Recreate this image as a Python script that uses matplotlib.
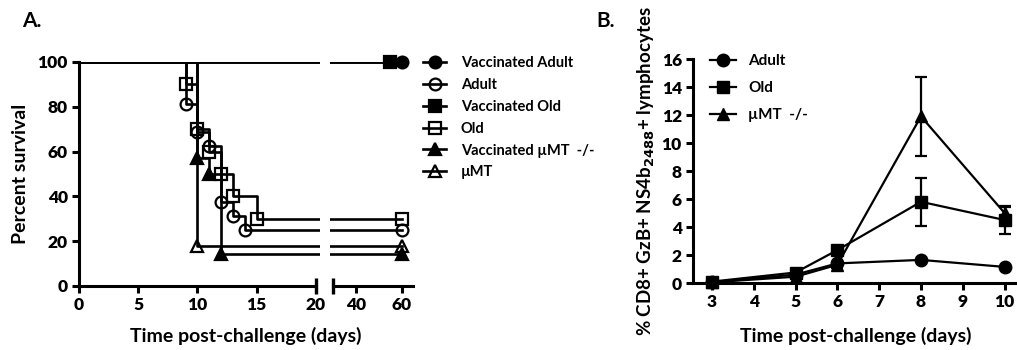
import matplotlib
matplotlib.use('Agg')
import matplotlib.pyplot as plt
from matplotlib.lines import Line2D

plt.rcParams['font.family'] = ['Lato', 'DejaVu Sans']
plt.rcParams['font.weight'] = 'bold'
plt.rcParams['axes.labelweight'] = 'bold'
plt.rcParams['axes.linewidth'] = 2.2

# ---- panel A: survival (Kaplan-Meier steps) ----
va_t = [0, 60]
va_s = [100, 100]
ad_t = [0, 9, 10, 11, 12, 13, 14, 60]
ad_s = [100, 81.25, 68.75, 62.5, 37.5, 31.25, 25, 25]
vo_t = [0, 55]
vo_s = [100, 100]
old_t = [0, 9, 10, 11, 12, 13, 15, 60]
old_s = [100, 90, 70, 60, 50, 40, 30, 30]
vmt_t = [0, 10, 11, 12, 60]
vmt_s = [100, 57.1, 50, 14.3, 14.3]
mt_t = [0, 10, 60]
mt_s = [100, 18, 18]

labelsA = ['Vaccinated Adult', 'Adult', 'Vaccinated Old', 'Old',
           'Vaccinated \u00b5MT  -/-', '\u00b5MT']
xticksL = [0, 5, 10, 15, 20]
xticksR = [40, 60]
yticksA = [0, 20, 40, 60, 80, 100]

# ---- panel B: CD8+ GzB+ NS4b2488+ ----
days = [3, 5, 6, 8, 10]
adult_b = [0.05, 0.6, 1.4, 1.65, 1.15]
adult_e = [0.05, 0.1, 0.1, 0.1, 0.1]
old_b = [0.1, 0.75, 2.35, 5.8, 4.5]
old_e = [0.05, 0.1, 0.2, 1.7, 1.0]
mt_b = [0.05, 0.45, 1.3, 11.9, 5.0]
mt_e = [0.05, 0.1, 0.2, 2.85, 0.45]
labelsB = ['Adult', 'Old', '\u00b5MT  -/-']
xticksB = [3, 4, 5, 6, 7, 8, 9, 10]
yticksB = [0, 2, 4, 6, 8, 10, 12, 14, 16]

W, H = 1017, 350
def px(l, t, r, b):
    return [l / W, 1 - b / H, (r - l) / W, (b - t) / H]

def set_ticks(ax, xt, yt):
    ax.set_xticks(xt, [str(v) for v in xt], fontweight='heavy')
    if yt:
        ax.set_yticks(yt, [str(v) for v in yt], fontweight='heavy')
    else:
        ax.set_yticks([])

fig = plt.figure(figsize=(W / 100, H / 100), dpi=100)
axL = fig.add_axes(px(79, 62, 320, 286))
axR = fig.add_axes(px(330, 62, 413, 286))
axB = fig.add_axes(px(693, 59, 1015, 283))

styles = [
    dict(marker='o', mfc='k'),
    dict(marker='o', mfc='none'),
    dict(marker='s', mfc='k'),
    dict(marker='s', mfc='none'),
    dict(marker='^', mfc='k'),
    dict(marker='^', mfc='none'),
]
curves = [(va_t, va_s), (ad_t, ad_s), (vo_t, vo_s), (old_t, old_s),
          (vmt_t, vmt_s), (mt_t, mt_s)]

axL.set_xlim(0, 20.35)
axR.set_xlim(28.6, 65)
for ax in (axL, axR):
    lo, hi = ax.get_xlim()
    for (t, s), st in zip(curves, styles):
        ax.step(t, s, where='post', color='k', lw=1.9)
        pts = [(a, b) for a, b in zip(t[1:], s[1:]) if lo <= a <= hi]
        if pts:
            ax.plot([p[0] for p in pts], [p[1] for p in pts], ls='none',
                    marker=st['marker'], ms=8.5, mfc=st['mfc'], mec='k',
                    mew=1.6, clip_on=False)
    ax.set_ylim(0, 100)
    ax.spines['top'].set_visible(False)
    ax.spines['right'].set_visible(False)
    ax.tick_params(direction='out', length=5, width=2.2, labelsize=12.5, pad=3)

axL.spines['bottom'].set_bounds(0, 20)
set_ticks(axL, xticksL, yticksA)
axL.plot([20], [0], marker='|', ms=11, mew=2.4, color='k', clip_on=False)
axL.set_ylabel('Percent survival', fontsize=14, labelpad=6)

axR.spines['bottom'].set_bounds(30, 65)
axR.spines['left'].set_visible(False)
set_ticks(axR, xticksR, None)
axR.plot([30], [0], marker='|', ms=11, mew=2.4, color='k', clip_on=False)

fig.text(246 / W, 1 - 336 / H, 'Time post-challenge (days)', fontsize=14,
         fontweight='bold', ha='center', va='center')
fig.text(22 / W, 1 - 21 / H, 'A.', fontsize=15, fontweight='bold',
         ha='left', va='center')

handlesA = [Line2D([], [], color='k', lw=1.9, marker=st['marker'], ms=8.5,
                   mfc=st['mfc'], mec='k', mew=1.6) for st in styles]
fig.legend(handlesA, labelsA, loc='upper left',
           bbox_to_anchor=(423 / W, 1 - 56 / H), frameon=False,
           prop=dict(size=10.5, weight='bold'),
           handlelength=1.6, handletextpad=1.0, labelspacing=0.54,
           borderpad=0, borderaxespad=0)

# ---- panel B ----
stB = [('o', adult_b, adult_e), ('s', old_b, old_e), ('^', mt_b, mt_e)]
handlesB = []
for m, v, e in stB:
    axB.errorbar(days, v, yerr=e, color='k', lw=1.6, marker=m, ms=9,
                 mfc='k', mec='k', capsize=4.3, capthick=1.6, elinewidth=1.6,
                 clip_on=False)
    handlesB.append(Line2D([], [], color='k', lw=1.6, marker=m, ms=9))

axB.set_xlim(2.546, 10.25)
axB.set_ylim(0, 16)
axB.spines['top'].set_visible(False)
axB.spines['right'].set_visible(False)
axB.tick_params(direction='out', length=5, width=2.2, labelsize=12.5, pad=3)
set_ticks(axB, xticksB, yticksB)
axB.set_ylabel('% CD8+ GzB+ NS4b$_{\\mathbf{2488}}$+ lymphocytes', fontsize=13.5,
               labelpad=3)
axB.legend(handlesB, labelsB, loc='upper left',
           bbox_to_anchor=(710 / W, 1 - 54 / H), bbox_transform=fig.transFigure,
           frameon=False, prop=dict(size=11, weight='bold'),
           handlelength=1.7, handletextpad=0.8,
           labelspacing=0.85, borderpad=0, borderaxespad=0)

fig.text(856 / W, 1 - 336 / H, 'Time post-challenge (days)', fontsize=14,
         fontweight='bold', ha='center', va='center')
fig.text(596 / W, 1 - 21 / H, 'B.', fontsize=15, fontweight='bold',
         ha='left', va='center')

fig.savefig('out.png', dpi=100)
